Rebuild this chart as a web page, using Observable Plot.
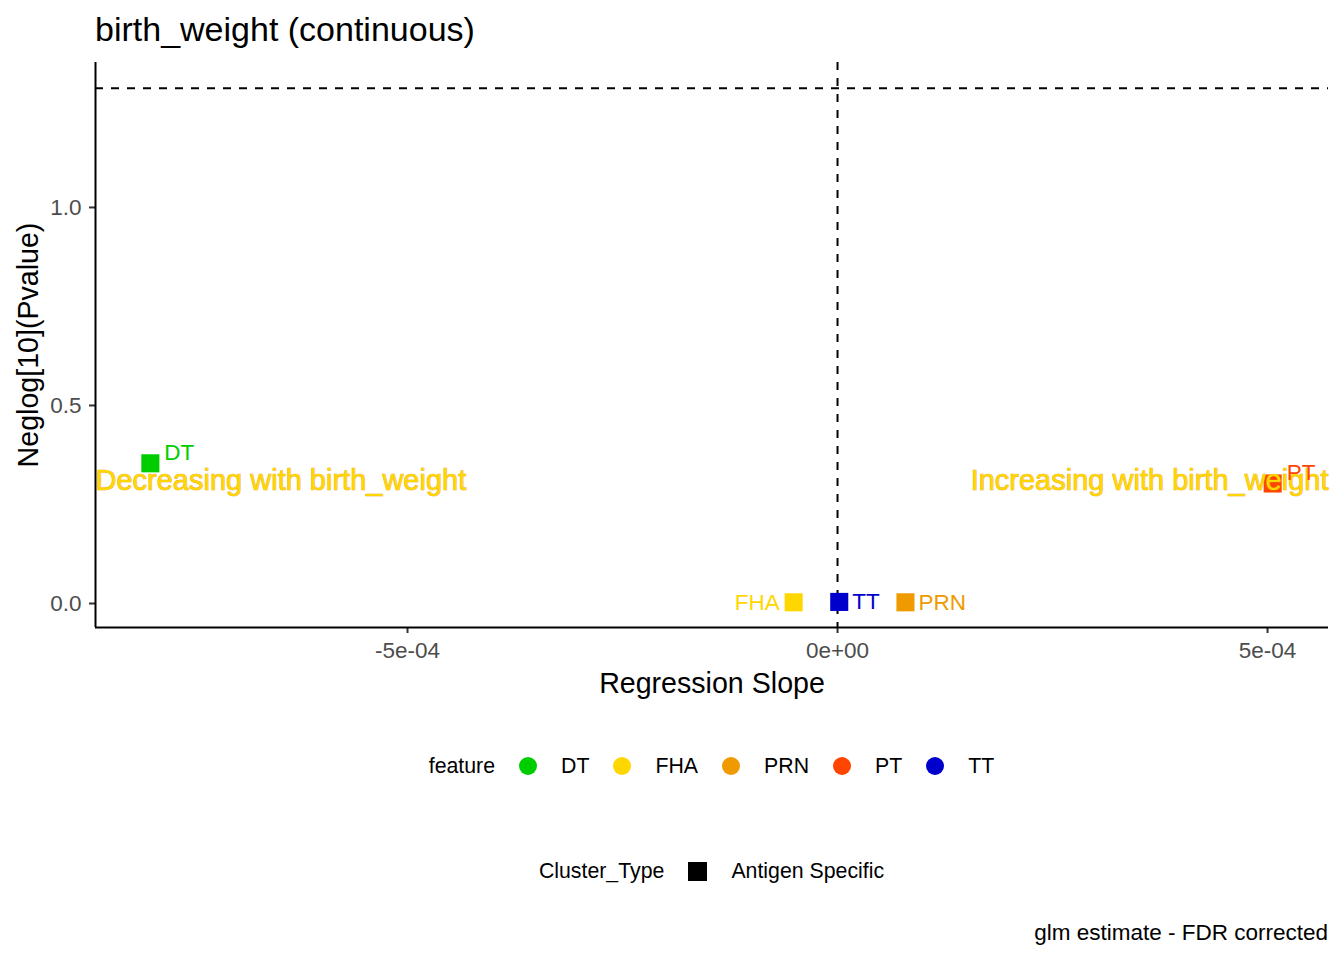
<!DOCTYPE html>
<html>
<head>
<meta charset="utf-8">
<script src="https://cdn.jsdelivr.net/npm/d3@7"></script>
<script src="https://cdn.jsdelivr.net/npm/@observablehq/plot@0.6"></script>
<style>
  body { margin: 0; background: #fff; font-family: "Liberation Sans", Arial, sans-serif; }
  #page { position: relative; width: 1344px; height: 960px; overflow: hidden; background: #fff; }
  #title { position: absolute; left: 95px; top: 9px; font-size: 34px; line-height: 40px; color: #000; white-space: nowrap; }
  #chart { position: absolute; left: 0; top: 52px; }
  .legend { position: absolute; left: 95px; width: 1233px; height: 30px; display: flex; justify-content: center; align-items: center; font-size: 21.3px; color: #000; white-space: nowrap; }
  .legend .sw { display: inline-block; margin-left: 24px; margin-right: 24px; }
  .legend .circ { width: 18px; height: 18px; border-radius: 50%; }
  .legend .sq { width: 19px; height: 19px; background: #000; }
  #caption { position: absolute; right: 16px; top: 919px; font-size: 22.5px; line-height: 28px; color: #000; white-space: nowrap; }
</style>
</head>
<body>
<div id="page">
  <div id="title"></div>
  <div id="chart"></div>
  <div class="legend" id="legend1" style="top:751px"></div>
  <div class="legend" id="legend2" style="top:856px"></div>
  <div id="caption"></div>
</div>
<script>
// ---- data ----
const titleText = "birth_weight (continuous)";
const xLabel = "Regression Slope";
const yLabel = "Neglog[10](Pvalue)";
const captionText = "glm estimate - FDR corrected";

const features = ["DT", "FHA", "PRN", "PT", "TT"];
const slopes   = [-7.99e-4, -5.1e-5, 7.9e-5, 5.06e-4, 2e-6];
const negLogP  = [0.354, 0.003, 0.003, 0.303, 0.004];
const featureColors = ["#00CD00", "#FFD700", "#EE9A00", "#FF4500", "#0000CD"];

const clusterTypes = ["Antigen Specific"];

const xTicks = [-5e-4, 0, 5e-4];
const xTickLabels = ["-5e-04", "0e+00", "5e-04"];
const yTicks = [0, 0.5, 1.0];
const yTickLabels = ["0.0", "0.5", "1.0"];

const xDomain = [-8.628e-4, 5.709e-4];
const yDomain = [-0.0606, 1.366];

const sigThreshold = 1.301; // -log10(0.05)
const annotLabels = ["Decreasing with birth_weight", "Increasing with birth_weight"];
const annotY = 0.31;

// ---- table ----
const data = features.map((f, i) => ({feature: f, slope: slopes[i], nlp: negLogP[i]}));

const labelFont = 22.5;
const colorScale = {domain: features, range: featureColors};

const chart = Plot.plot({
  width: 1344,
  height: 648,
  marginLeft: 95,
  marginRight: 16,
  marginTop: 10,
  marginBottom: 73,
  style: {fontFamily: "'Liberation Sans', Arial, sans-serif", background: "#fff"},
  x: {domain: xDomain, axis: null},
  y: {domain: yDomain, axis: null},
  color: colorScale,
  marks: [
    Plot.ruleY([sigThreshold], {stroke: "#000", strokeWidth: 2, strokeDasharray: "8,8"}),
    Plot.ruleX([0], {stroke: "#000", strokeWidth: 2, strokeDasharray: "8,8"}),
    Plot.axisX({ticks: xTicks, tickFormat: d => xTickLabels[xTicks.indexOf(d)], tickSize: 6, tickPadding: 9,
      stroke: "#333", strokeWidth: 2, fill: "#4D4D4D", fontSize: 22.5, label: null}),
    Plot.axisY({ticks: yTicks, tickFormat: d => yTickLabels[yTicks.indexOf(d)], tickSize: 6, tickPadding: 8,
      stroke: "#333", strokeWidth: 2, fill: "#4D4D4D", fontSize: 22.5, label: null}),
    Plot.ruleX([xDomain[0]], {stroke: "#000", strokeWidth: 2}),
    Plot.ruleY([yDomain[0]], {stroke: "#000", strokeWidth: 2}),
    Plot.dot(data, {x: "slope", y: "nlp", fill: "feature", symbol: "square", r: 10.2}),
    Plot.text([annotLabels[0]], {text: d => d, x: () => xDomain[0], y: () => annotY, textAnchor: "start",
      fill: "#FFD700", stroke: "#EE9A00", strokeWidth: 0.7, fontSize: 29}),
    Plot.text([annotLabels[1]], {text: d => d, x: () => xDomain[1], y: () => annotY, textAnchor: "end",
      fill: "#FFD700", stroke: "#EE9A00", strokeWidth: 0.7, fontSize: 29}),
    Plot.text(data, {filter: d => d.feature === "DT" || d.feature === "PT", x: "slope", y: "nlp", text: "feature",
      fill: "feature", textAnchor: "start", dx: 14, dy: -11, fontSize: labelFont}),
    Plot.text(data, {filter: d => d.feature === "TT" || d.feature === "PRN", x: "slope", y: "nlp", text: "feature",
      fill: "feature", textAnchor: "start", dx: 13, fontSize: labelFont}),
    Plot.text(data, {filter: d => d.feature === "FHA", x: "slope", y: "nlp", text: "feature",
      fill: "feature", textAnchor: "end", dx: -14, fontSize: labelFont}),
    Plot.text([xLabel], {text: d => d, frameAnchor: "bottom", lineAnchor: "middle", textAnchor: "middle",
      dy: 56, fontSize: 28.6, fill: "#000"}),
    Plot.text([yLabel], {text: d => d, frameAnchor: "left", textAnchor: "middle", lineAnchor: "middle",
      rotate: -90, dx: -67, fontSize: 28.6, fill: "#000"})
  ]
});
document.getElementById("chart").appendChild(chart);

document.getElementById("title").textContent = titleText;
document.getElementById("caption").textContent = captionText;

// legend 1: feature
const lg1 = document.getElementById("legend1");
const t1 = document.createElement("span"); t1.textContent = "feature"; lg1.appendChild(t1);
features.forEach((f, i) => {
  const sw = document.createElement("span");
  sw.className = "sw circ"; sw.style.background = featureColors[i];
  lg1.appendChild(sw);
  const lb = document.createElement("span"); lb.textContent = f; lg1.appendChild(lb);
});
// legend 2: Cluster_Type
const lg2 = document.getElementById("legend2");
const t2 = document.createElement("span"); t2.textContent = "Cluster_Type"; lg2.appendChild(t2);
clusterTypes.forEach(c => {
  const sw = document.createElement("span"); sw.className = "sw sq"; lg2.appendChild(sw);
  const lb = document.createElement("span"); lb.textContent = c; lg2.appendChild(lb);
});
</script>
</body>
</html>
